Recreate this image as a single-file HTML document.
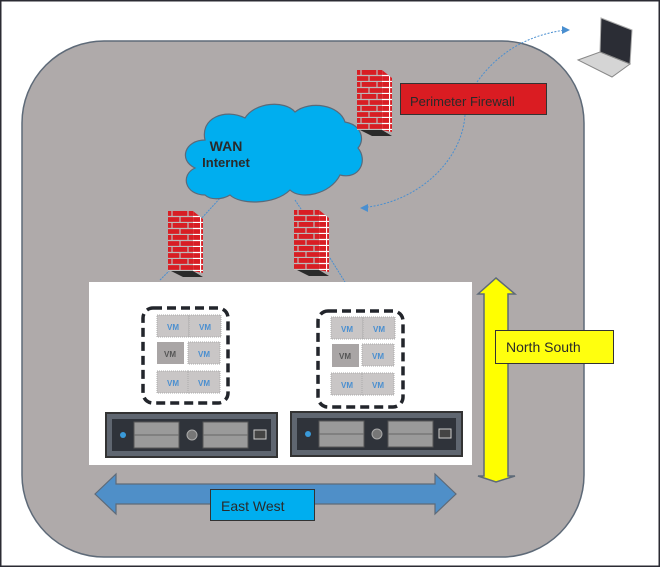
<!DOCTYPE html>
<html><head><style>
html,body{margin:0;padding:0;background:#fff}
svg{display:block}
text{font-family:"Liberation Sans",sans-serif}
</style></head><body>
<svg width="660" height="567" viewBox="0 0 660 567" xmlns="http://www.w3.org/2000/svg">
<defs>
<pattern id="brick" width="16" height="12" patternUnits="userSpaceOnUse">
<rect width="16" height="12" fill="#d81e24"/>
<path d="M0 11.5H16M0 5.5H16M4 0V5.5M12 5.5V11.5" stroke="#bbb" stroke-width="1.2"/>
</pattern>
<pattern id="brick2" width="8" height="12" patternUnits="userSpaceOnUse">
<rect width="8" height="12" fill="#d81e24"/>
<path d="M0 11.5H8M0 5.5H8M0.5 0V12" stroke="#fff" stroke-width="1.2"/>
</pattern>
<g id="fw">
<polygon points="0,0 25,0 25,60 0,60" fill="url(#brick)"/>
<polygon points="25,0 35,8 35,62 25,60" fill="url(#brick2)"/>
<polygon points="3,60 25,60 35,66 15,66" fill="#2a2a2a"/>
</g>
<g id="vm">
<rect width="32" height="22" fill="#c9c6c6" stroke="#aaa" stroke-dasharray="1 1"/>
<text x="16" y="15" font-size="8" font-weight="bold" fill="#4a8fd0" text-anchor="middle">VM</text>
</g>
<g id="server">
<rect width="171" height="44" fill="#5f6670" stroke="#333" stroke-width="2"/>
<rect x="6" y="6" width="159" height="32" fill="#2f333a"/>
<circle cx="17" cy="22" r="3" fill="#3a9ad9"/>
<rect x="28" y="9" width="45" height="26" fill="#9a9a9a" stroke="#555"/>
<line x1="28" y1="22" x2="73" y2="22" stroke="#666"/>
<circle cx="86" cy="22" r="5" fill="#777" stroke="#aaa"/>
<rect x="97" y="9" width="45" height="26" fill="#9a9a9a" stroke="#555"/>
<line x1="97" y1="22" x2="142" y2="22" stroke="#666"/>
<rect x="148" y="17" width="12" height="9" fill="#444" stroke="#ccc"/>
</g>
</defs>
<rect x="0.5" y="0.5" width="659" height="566" fill="#fff" stroke="#2b2b33" stroke-width="2"/>
<rect x="22" y="41" width="562" height="516" rx="82" ry="82" fill="#afaaaa" stroke="#5e6a78" stroke-width="1.5"/>
<path d="M160 280 L175 265" stroke="#4a8fd0" stroke-width="1" stroke-dasharray="2 1"/>
<path d="M200 220 L222 196" stroke="#4a8fd0" stroke-width="1" stroke-dasharray="2 1"/>
<path d="M295 200 L303 212" stroke="#4a8fd0" stroke-width="1" stroke-dasharray="2 1"/>
<path d="M330 258 L345 282" stroke="#4a8fd0" stroke-width="1" stroke-dasharray="2 1"/>
<path d="M477 82 C500 50 530 35 565 30" fill="none" stroke="#4a8fd0" stroke-dasharray="2 1.5"/>
<polygon points="570,30 562,26 562,34" fill="#4a8fd0"/>
<path d="M465 115 C462 160 420 200 368 207" fill="none" stroke="#4a8fd0" stroke-dasharray="2 1.5"/>
<polygon points="360,208 368,204 368,212" fill="#4a8fd0"/>
<path d="M205 195 C185 195 180 175 195 168 C178 160 185 140 205 140 C200 118 225 108 245 118 C255 102 285 100 295 112 C310 100 340 105 345 122 C362 125 365 140 358 148 C368 160 360 180 340 175 C330 195 300 200 290 190 C275 205 240 205 230 195 C222 200 210 200 205 195 Z" fill="#00aeef" stroke="#5a6a7a" stroke-width="1.2"/>
<text x="226" y="151" font-size="14" font-weight="bold" fill="#2a2a2a" text-anchor="middle">WAN</text>
<text x="226" y="167" font-size="13" font-weight="bold" fill="#2a2a2a" text-anchor="middle">Internet</text>
<use href="#fw" x="357" y="70"/>
<use href="#fw" x="168" y="211"/>
<use href="#fw" x="294" y="210"/>
<rect x="400.5" y="83.5" width="146" height="31" fill="#da1c22" stroke="#333"/>
<text x="410" y="106" font-size="13" fill="#2a2a2a">Perimeter Firewall</text>
<polygon points="601,18 632,30 630,64 600,52" fill="#2b2d35" stroke="#aaa"/>
<polygon points="600,52 630,64 612,77 578,60" fill="#d5d5d5" stroke="#888"/>
<rect x="89" y="282" width="383" height="183" fill="#fff"/>
<rect x="143" y="308" width="85" height="95" rx="10" fill="none" stroke="#22252b" stroke-width="3.5" stroke-dasharray="9 5"/>
<use href="#vm" x="157" y="315"/>
<use href="#vm" x="189" y="315"/>
<rect x="157" y="342" width="27" height="22" fill="#a9a5a5"/>
<text x="170" y="357" font-size="8" font-weight="bold" fill="#555" text-anchor="middle">VM</text>
<use href="#vm" x="188" y="342"/>
<use href="#vm" x="157" y="371"/>
<use href="#vm" x="188" y="371"/>
<rect x="318" y="311" width="85" height="96" rx="10" fill="none" stroke="#22252b" stroke-width="3.5" stroke-dasharray="9 5"/>
<use href="#vm" x="331" y="317"/>
<use href="#vm" x="363" y="317"/>
<rect x="332" y="344" width="27" height="23" fill="#a9a5a5"/>
<text x="345" y="359" font-size="8" font-weight="bold" fill="#555" text-anchor="middle">VM</text>
<use href="#vm" x="362" y="344"/>
<use href="#vm" x="331" y="373"/>
<use href="#vm" x="362" y="373"/>
<use href="#server" x="106" y="413"/>
<use href="#server" x="291" y="412"/>
<polygon points="496,278 515,294 508,294 508,476 515,476 496,482 478,476 484,476 484,294 478,294" fill="#ffff00" stroke="#5e6a78" stroke-width="1.5"/>
<rect x="495.5" y="330.5" width="118" height="33" fill="#ffff0e" stroke="#333"/>
<text x="506" y="352" font-size="14" fill="#2a2a2a">North South</text>
<polygon points="95,494 116,474 116,484 435,484 435,474 456,494 435,514 435,504 116,504 116,514" fill="#4f8fc8" stroke="#5e6a78" stroke-width="1.2"/>
<rect x="210.5" y="489.5" width="104" height="31" fill="#00aeef" stroke="#333"/>
<text x="221" y="511" font-size="14" fill="#2a2a2a">East West</text>
</svg>
</body></html>
